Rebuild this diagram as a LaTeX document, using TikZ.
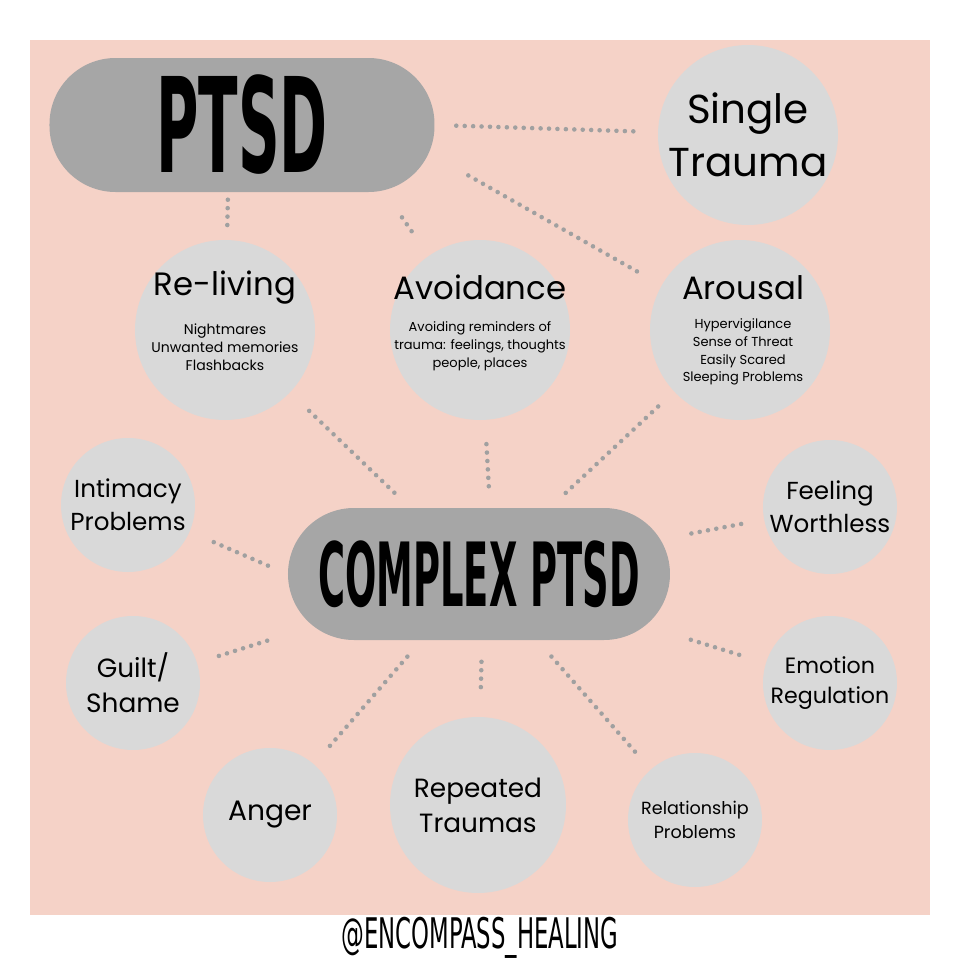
\documentclass[tikz,border=0pt]{standalone}
\usepackage{fontspec}
\setmainfont{Poppins}
\newfontfamily\headfont{DejaVu Sans Condensed Bold}
\newfontfamily\tagfont{DejaVu Sans Condensed}
\usepackage{tikz}
\usetikzlibrary{positioning}
\definecolor{bgpink}{HTML}{F5D2C7}
\definecolor{bubble}{HTML}{D9D9D9}
\definecolor{pill}{HTML}{A6A6A6}
\definecolor{dotgrey}{HTML}{A0A0A0}
\newcommand{\headtxt}[3]{\scalebox{#1}[#2]{\headfont #3}}
\tikzset{
  big/.style={circle, fill=bubble, minimum size=1.8cm, inner sep=0pt, align=center, font=\fontsize{11.5}{15}\selectfont},
  small/.style={circle, fill=bubble, minimum size=1.34cm, inner sep=0pt, align=center, font=\fontsize{7}{9.5}\selectfont},
  title/.style={align=center, inner sep=0pt, font=\fontsize{9.2}{11}\selectfont},
  note/.style={align=center, inner sep=0pt, font=\fontsize{4}{5.2}\selectfont},
  capsule/.style={rounded corners=0.66cm, fill=pill, inner sep=0pt},
  link/.style={draw=dotgrey, line width=1.3pt, line cap=round, dash pattern=on 0pt off 2.4pt, shorten >=6pt, shorten <=6pt}
}
\begin{document}
\begin{tikzpicture}[x=1cm,y=1cm]
\useasboundingbox (0,0) rectangle (9.6,9.6);
\fill[white] (0,0) rectangle (9.6,9.6);
\fill[bgpink] (0.3,0.45) rectangle (9.3,9.2);
% top level
\node[capsule, minimum width=3.85cm, minimum height=1.34cm] (ptsd) at (2.42,8.35) {\headtxt{0.61}{1.25}{\fontsize{30}{30}\selectfont PTSD}};
\node[big] (single) at (7.48,8.25) {Single\\Trauma};
\node[big] (reliving) at (2.25,6.3) {};
\node[title] (reliving-t) at (2.25,6.72) {Re-living};
\node[note, below=5pt of reliving-t] (reliving-n) {Nightmares\\Unwanted memories\\Flashbacks};
\node[big] (avoid) at (4.8,6.3) {};
\node[title] (avoid-t) at (4.8,6.73) {Avoidance};
\node[note, font=\fontsize{3.7}{5}\selectfont, below=6pt of avoid-t] (avoid-n) {Avoiding reminders of\\trauma: feelings, thoughts\\people, places};
\node[big] (arousal) at (7.4,6.3) {};
\node[title] (arousal-t) at (7.43,6.72) {Arousal};
\node[note, font=\fontsize{3.7}{5}\selectfont, below=5pt of arousal-t] (arousal-n) {Hypervigilance\\Sense of Threat\\Easily Scared\\Sleeping Problems};
% complex level
\node[capsule, minimum width=3.82cm, minimum height=1.32cm] (cptsd) at (4.79,3.86) {\headtxt{0.555}{1.2}{\fontsize{21}{21}\selectfont COMPLEX PTSD}};
\node[small] (intimacy) at (1.28,4.55) {Intimacy\\Problems};
\node[small, font=\fontsize{7.5}{10}\selectfont] (guilt) at (1.33,2.77) {Guilt/\\Shame};
\node[small, font=\fontsize{8}{10}\selectfont] (anger) at (2.7,1.45) {Anger};
\node[big, minimum size=1.76cm, font=\fontsize{7.5}{10}\selectfont] (repeated) at (4.78,1.55) {Repeated\\Traumas};
\node[small, font=\fontsize{5}{7}\selectfont] (relation) at (6.95,1.4) {Relationship\\Problems};
\node[small, font=\fontsize{6.3}{8.5}\selectfont] (emotion) at (8.3,2.77) {Emotion\\Regulation};
\node[small] (worth) at (8.3,4.53) {Feeling\\Worthless};
\node (tag) at (4.8,0.22) {\headtxt{0.72}{1.2}{\tagfont\fontsize{10}{10}\selectfont @ENCOMPASS\_HEALING}};
% connectors
\draw[link] (ptsd.east) -- (single);
\draw[link] (4.5,7.95) -- (arousal);
\draw[link, shorten >=3pt, shorten <=2pt] (ptsd.south -| 2.28,0) -- (reliving);
\draw[link] (3.9,7.6) -- (avoid);
\draw[link] (cptsd) -- (reliving);
\draw[link] (cptsd.north -| 4.9,0) -- (avoid);
\draw[link] (cptsd) -- (arousal);
\draw[link] (cptsd.west) -- (intimacy);
\draw[link] (cptsd) -- (guilt);
\draw[link] (cptsd) -- (anger);
\draw[link] (cptsd.south -| 4.82,0) -- (repeated);
\draw[link] (cptsd) -- (relation);
\draw[link] (cptsd) -- (emotion);
\draw[link] (cptsd) -- (worth);
\end{tikzpicture}
\end{document}
